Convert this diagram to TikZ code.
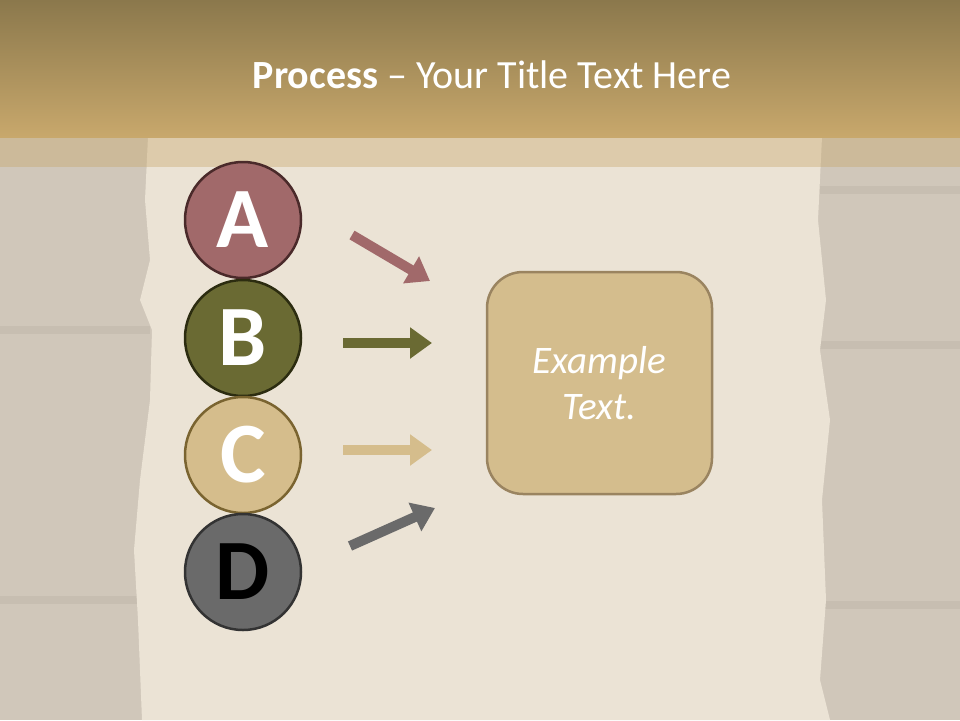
\documentclass[tikz,border=0pt]{standalone}
\usepackage{fontspec}
\setmainfont{Carlito}
\usetikzlibrary{arrows.meta}
\definecolor{woodc}{HTML}{D0C7BA}
\definecolor{paperc}{HTML}{EBE3D5}
\definecolor{bandtop}{HTML}{8B784C}
\definecolor{bandbot}{HTML}{C8A86C}
\definecolor{afill}{HTML}{A1696A}
\definecolor{adraw}{HTML}{4A2A2A}
\definecolor{bfill}{HTML}{6A6A33}
\definecolor{bdraw}{HTML}{2C2C10}
\definecolor{cfill}{HTML}{D5BD8C}
\definecolor{cdraw}{HTML}{7A6430}
\definecolor{dfill}{HTML}{6A6A6A}
\definecolor{ddraw}{HTML}{333333}
\definecolor{boxfill}{HTML}{D4BD8D}
\definecolor{boxdraw}{HTML}{9A8460}
\tikzset{
  letter/.style={circle, minimum size=116pt, inner sep=0pt, line width=2.5pt,
    font=\fontsize{86}{86}\selectfont\bfseries},
  fat/.style={line width=10pt, -{Triangle[length=22pt,width=30pt]}},
  plank/.style={line width=8pt, draw=black, opacity=0.045}
}
\begin{document}
\begin{tikzpicture}[x=1pt,y=-1pt]
\useasboundingbox (0,0) rectangle (960,720);
% wood background
\fill[woodc] (0,0) rectangle (960,720);
\draw[plank] (0,330) -- (150,330);
\draw[plank] (0,600) -- (150,600);
\draw[plank] (820,190) -- (960,190);
\draw[plank] (820,345) -- (960,345);
\draw[plank] (820,605) -- (960,605);
% paper
\fill[paperc] (148,137) -- (822,137) -- (818,220) -- (826,300) -- (820,350)
  -- (830,420) -- (822,500) -- (826,600) -- (820,680) -- (830,720)
  -- (142,720) -- (138,620) -- (134,550) -- (140,480) -- (150,400)
  -- (152,330) -- (140,300) -- (150,260) -- (145,200) -- cycle;
% title band
\shade[top color=bandtop, bottom color=bandbot] (0,0) rectangle (960,137);
\fill[bandbot, opacity=0.4] (0,137) rectangle (960,167);
\node[text=white, font=\fontsize{40}{40}\selectfont, anchor=base] (title) at (492,88)
  {\textbf{Process} – Your Title Text Here};
% circles
\node[letter, fill=afill, draw=adraw, text=white] (A) at (243,220) {A};
\node[letter, fill=bfill, draw=bdraw, text=white] (B) at (243,338) {B};
\node[letter, fill=cfill, draw=cdraw, text=white] (C) at (243,455) {C};
\node[letter, fill=dfill, draw=ddraw, text=black] (D) at (243,572) {D};
% box
\node[draw=boxdraw, fill=boxfill, line width=2.5pt, rounded corners=36pt,
  minimum width=225pt, minimum height=222pt, text=white, align=center,
  font=\fontsize{39}{46}\selectfont\itshape] (box) at (599.5,383) {Example\\Text.};
% arrows
\coordinate (a1) at (352,235); \coordinate (a2) at (430,281);
\coordinate (b1) at (343,343); \coordinate (b2) at (432,343);
\coordinate (c1) at (343,450); \coordinate (c2) at (432,450);
\coordinate (d1) at (350,546); \coordinate (d2) at (435,508);
\draw[fat, draw=afill, fill=afill] (a1) -- (a2);
\draw[fat, draw=bfill, fill=bfill] (b1) -- (b2);
\draw[fat, draw=cfill, fill=cfill] (c1) -- (c2);
\draw[fat, draw=dfill, fill=dfill] (d1) -- (d2);
\end{tikzpicture}
\end{document}
